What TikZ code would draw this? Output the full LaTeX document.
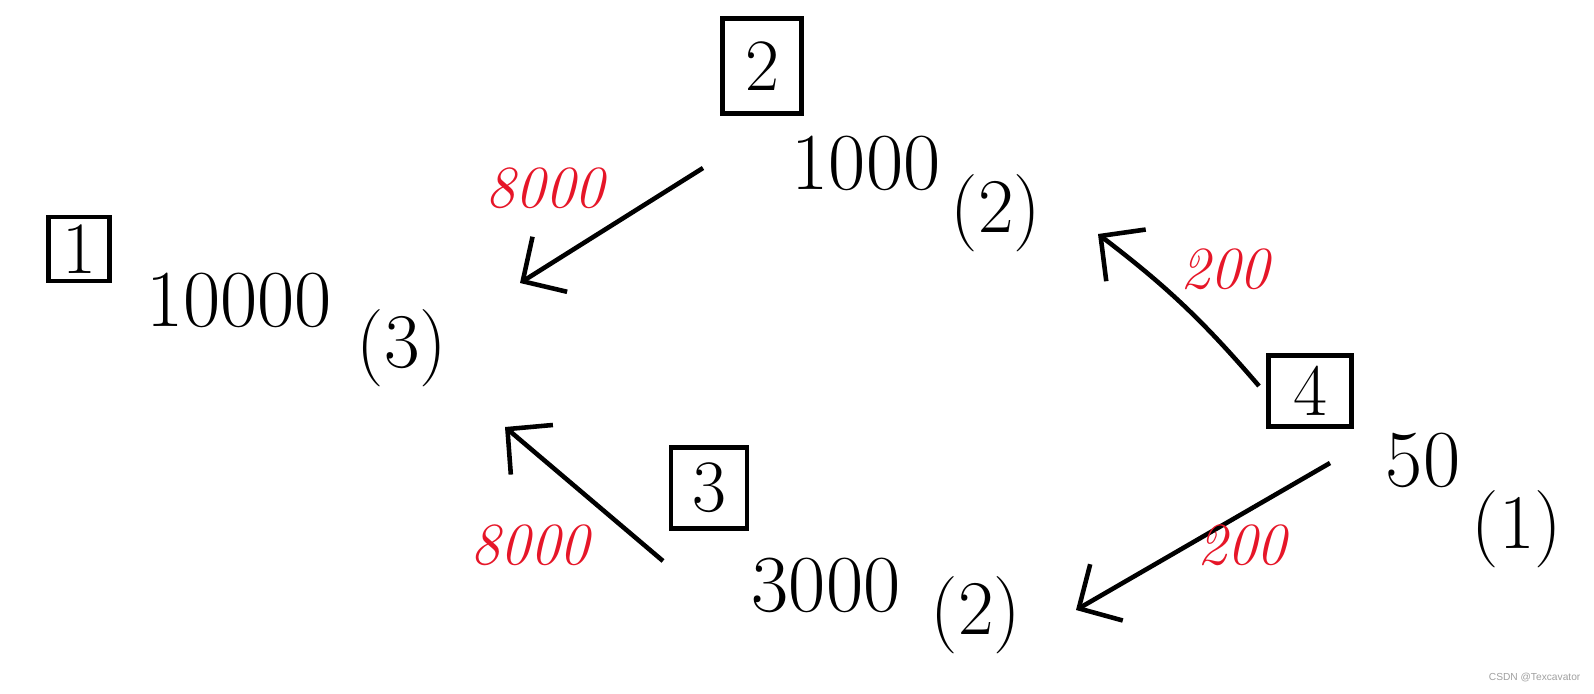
\documentclass[tikz,border=0pt]{standalone}
\usepackage{fontspec}
\newfontfamily\markfont{Liberation Sans}
\usetikzlibrary{arrows.meta}
\definecolor{inkred}{RGB}{230,22,40}
\definecolor{marksgray}{RGB}{160,160,160}
\begin{document}
\begin{tikzpicture}[x=0.01cm,y=-0.01cm,
  idbox/.style={draw,line width=1.3pt,inner sep=0pt,font=\fontsize{21}{24}\selectfont},
  val/.style={inner sep=0pt,font=\fontsize{23}{26}\selectfont},
  cnt/.style={inner sep=0pt,font=\fontsize{22}{26}\selectfont},
  wt/.style={inner sep=0pt,text=inkred,font=\fontsize{17}{20}\selectfont\itshape},
  flow/.style={line width=1.3pt,-{Straight Barb[length=3.2mm,width=6.5mm,line width=1.3pt]}}]
\useasboundingbox (0,0) rectangle (1594,694);

% vertex 1
\node[idbox,minimum width=0.61cm,minimum height=0.64cm] (b1) at (79,249) {1};
\node[val] (v1) at (239,300) {10000};
\node[cnt] (c1) at (402,348) {(3)};
% vertex 2
\node[idbox,minimum width=0.79cm,minimum height=0.95cm] (b2) at (762,66) {2};
\node[val] (v2) at (866,163) {1000};
\node[cnt] (c2) at (996,213) {(2)};
% vertex 3
\node[idbox,minimum width=0.76cm,minimum height=0.81cm] (b3) at (709,488) {3};
\node[val] (v3) at (826,585) {3000};
\node[cnt] (c3) at (976,615) {(2)};
% vertex 4
\node[idbox,minimum width=0.83cm,minimum height=0.71cm] (b4) at (1310,391) {4};
\node[val] (v4) at (1423,460) {50};
\node[cnt] (c4) at (1517,529) {(1)};

% arrow ends
\coordinate (s21) at (703,168);
\coordinate (e21) at (520,283);
\coordinate (s42) at (1259,386);
\coordinate (e42) at (1098,234);
\coordinate (s31) at (663,561);
\coordinate (e31) at (505,427);
\coordinate (s43) at (1330,463);
\coordinate (e43) at (1076,610);

\draw[flow] (s21) -- (e21);
\draw[flow] (s42) to[bend right=6] (e42);
\draw[flow] (s31) -- (e31);
\draw[flow] (s43) -- (e43);

% weights
\node[wt] (w21) at (545,188) {8000};
\node[wt] (w42) at (1225,269) {200};
\node[wt] (w31) at (530,545) {8000};
\node[wt] (w43) at (1242,545) {200};

\node[inner sep=0pt,text=marksgray,font=\markfont\fontsize{2.9}{3.5}\selectfont,anchor=east] (mark) at (1581,677) {CSDN @Texcavator};
\end{tikzpicture}
\end{document}
